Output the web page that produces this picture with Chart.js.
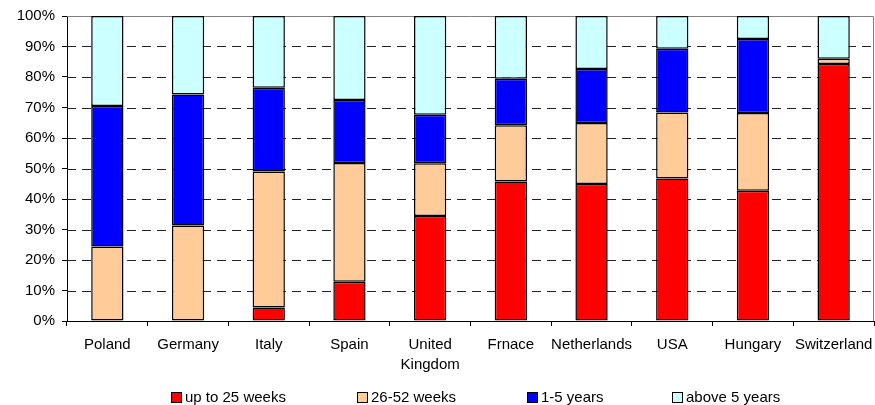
<!DOCTYPE html>
<html>
<head>
<meta charset="utf-8">
<script src="https://cdn.jsdelivr.net/npm/chart.js@4/dist/chart.umd.min.js"></script>
<style>
  html, body { margin: 0; padding: 0; background: #fff; }
  #wrap { position: relative; width: 875px; height: 405px; }
  #legend { position: absolute; left: 0; top: 389px; width: 875px; height: 16px;
            font: 15px "Liberation Sans", Arial, sans-serif; color: #000; }
  #legend .item { position: absolute; top: 0; white-space: nowrap; line-height: 16px; }
  #legend .box { display: inline-block; width: 9px; height: 9px; border: 1px solid #000;
                 vertical-align: -1px; margin-right: 3px; }
</style>
</head>
<body>
<div id="wrap">
  <canvas id="c" width="875" height="405"></canvas>
  <div id="legend"></div>
</div>
<script>
// Countries on the category axis
const countries = ['Poland', 'Germany', 'Italy', 'Spain', ['United', 'Kingdom'],
                   'Frnace', 'Netherlands', 'USA', 'Hungary', 'Switzerland'];

// Share of unemployed by duration of unemployment (per cent)
const upTo25Weeks = [0, 0, 4.4, 12.9, 34.4, 45.7, 44.9, 46.7, 42.7, 84.3];
const weeks26to52 = [24.4, 31.3, 44.6, 38.9, 17.3, 18.5, 20.0, 21.7, 25.5, 1.7];
const years1to5   = [46.1, 43.0, 27.5, 20.7, 15.9, 15.2, 17.7, 20.9, 24.3, 0];
const above5Years = [29.5, 25.7, 23.5, 27.5, 32.4, 20.6, 17.4, 10.7, 7.5, 14.0];

// Value axis ticks
const yTicks = [0, 10, 20, 30, 40, 50, 60, 70, 80, 90, 100];

const seriesNames = ['up to 25 weeks', '26-52 weeks', '1-5 years', 'above 5 years'];
const seriesColors = ['#FF0000', '#FFCC99', '#0000FF', '#CCFFFF'];
const seriesData = [upTo25Weeks, weeks26to52, years1to5, above5Years];

const FONT = '"Liberation Sans", Arial, sans-serif';

// Dashed horizontal grid plus the grey frame on top and right of the plot area
const frameAndGrid = {
  id: 'frameAndGrid',
  beforeDatasetsDraw(chart) {
    const { ctx, chartArea: a, scales: { y } } = chart;
    ctx.save();
    ctx.lineWidth = 1;
    yTicks.forEach(v => {
      if (v === 0 || v === 100) return;
      const py = Math.round(y.getPixelForValue(v)) + 0.5;
      ctx.strokeStyle = '#222';
      ctx.setLineDash([9, 6]);
      ctx.beginPath();
      ctx.moveTo(a.left, py);
      ctx.lineTo(a.right, py);
      ctx.stroke();
    });
    ctx.setLineDash([]);
    ctx.strokeStyle = '#808080';
    const top = Math.round(y.getPixelForValue(100)) + 0.5;
    ctx.beginPath();
    ctx.moveTo(a.left, top);
    ctx.lineTo(a.right - 0.5, top);
    ctx.lineTo(a.right - 0.5, a.bottom);
    ctx.stroke();
    ctx.restore();
  }
};

new Chart(document.getElementById('c'), {
  type: 'bar',
  data: {
    labels: countries,
    datasets: seriesData.map((d, i) => ({
      label: seriesNames[i],
      data: d,
      backgroundColor: seriesColors[i],
      borderColor: '#000',
      borderWidth: 1.5,
      borderSkipped: false,
      categoryPercentage: 1,
      barPercentage: 0.4
    }))
  },
  options: {
    responsive: false,
    animation: false,
    events: [],
    layout: { padding: { top: 16, right: 1, left: 0, bottom: 0 } },
    plugins: { legend: { display: false }, tooltip: { enabled: false }, title: { display: false } },
    scales: {
      x: {
        stacked: true,
        grid: { offset: true, drawOnChartArea: false, tickLength: 5, tickColor: '#000', tickWidth: 1 },
        border: { color: '#000', width: 1 },
        ticks: { color: '#000', font: { family: FONT, size: 15, lineHeight: 1.33 }, padding: 9,
                 maxRotation: 0, autoSkip: false },
        afterFit(s) { s.height = 84; s.paddingLeft = 0; s.paddingRight = 0; }
      },
      y: {
        stacked: true,
        min: 0, max: 100,
        afterBuildTicks(s) { s.ticks = yTicks.map(v => ({ value: v })); },
        grid: { drawOnChartArea: false, tickLength: 5, tickColor: '#000', tickWidth: 1 },
        border: { color: '#000', width: 1 },
        ticks: { color: '#000', font: { family: FONT, size: 15 }, padding: 7,
                 callback: v => v + '%' },
        afterFit(s) { s.width = 67; }
      }
    }
  },
  plugins: [frameAndGrid]
});

// Legend row beneath the axis labels
const legendX = [171, 357, 527, 672];
const legend = document.getElementById('legend');
seriesNames.forEach((name, i) => {
  const item = document.createElement('span');
  item.className = 'item';
  item.style.left = legendX[i] + 'px';
  const box = document.createElement('span');
  box.className = 'box';
  box.style.background = seriesColors[i];
  item.appendChild(box);
  item.appendChild(document.createTextNode(name));
  legend.appendChild(item);
});
</script>
</body>
</html>
